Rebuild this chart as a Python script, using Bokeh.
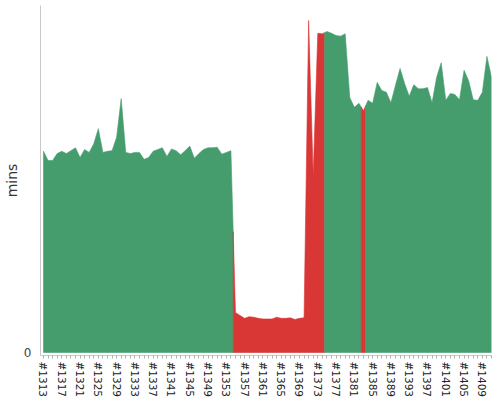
from bokeh.plotting import figure
from bokeh.models import Range1d, FixedTicker
from bokeh.embed import file_html
from bokeh.resources import INLINE

# ---- data ----
builds = list(range(1313, 1412))  # #1313 .. #1411
durations_min = [
    0.348, 0.332, 0.332, 0.344, 0.348, 0.344, 0.349, 0.354, 0.337, 0.351,
    0.346, 0.361, 0.387, 0.346, 0.348, 0.349, 0.372, 0.439, 0.346, 0.344,
    0.346, 0.346, 0.334, 0.337, 0.348, 0.351, 0.354, 0.339, 0.352, 0.349,
    0.342, 0.349, 0.357, 0.336, 0.344, 0.351, 0.354, 0.354, 0.355, 0.343,
    0.346, 0.349, 0.069, 0.064, 0.059, 0.062, 0.061, 0.059, 0.058, 0.058,
    0.058, 0.061, 0.059, 0.059, 0.060, 0.057, 0.059, 0.060, 0.574, 0.306,
    0.552, 0.551, 0.555, 0.552, 0.548, 0.547, 0.551, 0.441, 0.424, 0.431,
    0.418, 0.436, 0.431, 0.467, 0.453, 0.450, 0.432, 0.462, 0.491, 0.465,
    0.443, 0.463, 0.456, 0.456, 0.458, 0.432, 0.476, 0.501, 0.436, 0.448,
    0.446, 0.437, 0.488, 0.470, 0.437, 0.436, 0.450, 0.512, 0.476,
]
failed_builds = [1355, 1356, 1357, 1358, 1359, 1360, 1361, 1362, 1363, 1364,
                 1365, 1366, 1367, 1368, 1369, 1370, 1371, 1372, 1373, 1374,
                 1383]

GREEN = "#459d6e"
RED = "#d93636"

n = len(builds)
pos = list(range(n))
status = ["F" if b in failed_builds else "S" for b in builds]

runs = []
start = 0
for i in range(1, n + 1):
    if i == n or status[i] != status[start]:
        runs.append((start, i - 1))
        start = i

xs_list, ys_list, cols = [], [], []
v = durations_min
for a, b in runs:
    xl = a - 0.5 if a > 0 else 0
    xr = b + 0.5 if b < n - 1 else n - 1
    yl = (v[a - 1] + v[a]) / 2 if a > 0 else v[a]
    yr = (v[b] + v[b + 1]) / 2 if b < n - 1 else v[b]
    xs = [xl] + pos[a:b + 1] + [xr, xr, xl]
    ys = [yl] + v[a:b + 1] + [yr, 0, 0]
    xs_list.append(xs)
    ys_list.append(ys)
    cols.append(RED if status[a] == "F" else GREEN)

p = figure(width=500, height=400, output_backend="svg", toolbar_location=None,
           x_range=Range1d(-0.65, 98.0), y_range=Range1d(-0.0052, 0.6),
           min_border_left=0, min_border_right=9, min_border_top=5,
           min_border_bottom=0, title_location=None)
p.outline_line_color = None
p.grid.visible = False

p.patches(xs_list, ys_list, fill_color=cols, line_color=cols, line_width=0.6)

xa = p.xaxis[0]
xa.ticker = FixedTicker(ticks=pos)
xa.major_label_overrides = {i: ("#%d" % builds[i] if i % 4 == 0 else "") for i in pos}
xa.major_label_orientation = "vertical"
xa.major_label_text_font = "DejaVu Sans"
xa.major_label_text_font_size = "10.5px"
xa.major_label_text_color = "#222222"
xa.major_label_standoff = 3
xa.major_tick_out = 3
xa.major_tick_in = 0
xa.minor_tick_out = 0
xa.minor_tick_in = 0
xa.major_tick_line_color = "#b0b0b0"
xa.axis_line_color = "#c8c8c8"

ya = p.yaxis[0]
ya.ticker = FixedTicker(ticks=[0])
ya.axis_label = "mins"
ya.axis_label_text_font = "DejaVu Sans"
ya.axis_label_text_font_style = "normal"
ya.axis_label_text_font_size = "14px"
ya.axis_label_text_color = "#333333"
ya.axis_label_standoff = 1
ya.major_label_text_font = "DejaVu Sans"
ya.major_label_text_font_size = "12px"
ya.major_label_text_color = "#444444"
ya.major_label_standoff = 9
ya.major_tick_out = 0
ya.major_tick_in = 0
ya.minor_tick_out = 0
ya.minor_tick_in = 0
ya.axis_line_color = "#c8c8c8"

open("out.html", "w").write(file_html(p, INLINE))
